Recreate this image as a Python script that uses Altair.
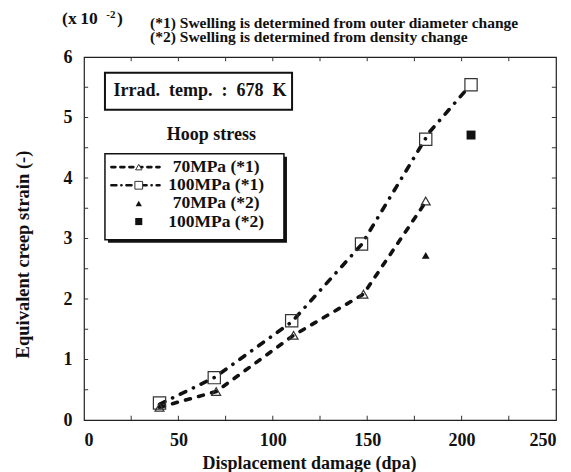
import altair as alt
import pandas as pd

FONT = "Liberation Serif"
NB = "\u00a0"

# ---- data ----
x70_1 = [40, 70, 111, 148, 181]
y70_1 = [0.21, 0.47, 1.40, 2.08, 3.62]
x100_1 = [40, 69, 110, 147, 181, 205]
y100_1 = [0.28, 0.70, 1.64, 2.91, 4.64, 5.54]
line70_x = [40, 70, 111, 148, 180]
line70_y = [0.21, 0.47, 1.40, 2.08, 3.56]
line100_x = [40, 69, 110, 147, 183, 202]
line100_y = [0.26, 0.70, 1.62, 2.90, 4.76, 5.44]
x70_2 = [181]
y70_2 = [2.72]
x100_2 = [205]
y100_2 = [4.71]

x_labels = [0, 50, 100, 150, 200, 250]
y_labels = [0, 1, 2, 3, 4, 5, 6]
x_minor = [25, 50, 75, 100, 125, 150, 175, 200, 225]
y_minor = [0.5, 1, 1.5, 2, 2.5, 3, 3.5, 4, 4.5, 5, 5.5]

legend_labels = ["70MPa (*1)", "100MPa (*1)", "70MPa (*2)", "100MPa (*2)"]
legend_rows_y = [4.18, 3.88, 3.58, 3.28]

xs = alt.Scale(domain=[0, 250], nice=False, zero=False)
ys = alt.Scale(domain=[0, 6], nice=False, zero=False)

xaxis = alt.Axis(values=x_labels, tickSize=0, domain=False, grid=False,
                 labelFont=FONT, labelFontSize=18, labelFontWeight="bold",
                 labelColor="#111", labelPadding=11,
                 titleFont=FONT, titleFontSize=18, titleFontWeight="bold",
                 titleColor="#111", titleX=225, titleY=43,
                 titleAlign="center", titleBaseline="middle")
yaxis = alt.Axis(values=y_labels, tickSize=0, domain=False, grid=False,
                 labelFont=FONT, labelFontSize=18, labelFontWeight="bold",
                 labelColor="#111", labelPadding=12,
                 titleFont=FONT, titleFontSize=18.5, titleFontWeight="bold",
                 titleColor="#111", titleX=-62, titleY=197, titleAngle=270,
                 titleAlign="center", titleBaseline="middle")

XT = "Displacement damage (dpa)"
YT = "Equivalent creep strain (-)"


def X(f="x"):
    return alt.X(f"{f}:Q", scale=xs, axis=xaxis, title=XT)


def Y(f="y"):
    return alt.Y(f"{f}:Q", scale=ys, axis=yaxis, title=YT)


def df(**kw):
    return pd.DataFrame(kw)


def text_layer(x, y, t, size, weight="normal", align="left", baseline="alphabetic"):
    return alt.Chart(df(x=x, y=y, t=t)).mark_text(
        font=FONT, fontSize=size, fontWeight=weight, align=align,
        baseline=baseline, color="#111").encode(x=X(), y=Y(), text="t:N")


# ---- boxes (legend frame, annotation frame) ----
shadow = alt.Chart(df(x=[12.7], x2=[107.5], y=[2.93], y2=[4.35])).mark_rect(
    fill="#111", stroke=None).encode(x=X(), x2="x2", y=Y(), y2="y2")
legbox = alt.Chart(df(x=[11.1], x2=[105.9], y=[2.98], y2=[4.40])).mark_rect(
    fill="white", stroke="#111", strokeWidth=1.5).encode(x=X(), x2="x2", y=Y(), y2="y2")
irrbox = alt.Chart(df(x=[11.1], x2=[110.2], y=[5.13], y2=[5.74])).mark_rect(
    fill="white", stroke="#111", strokeWidth=2).encode(x=X(), x2="x2", y=Y(), y2="y2")

# ---- curves ----
dash70 = [5, 8.5]
dash100 = [6, 8.5, 0.1, 8.5]
l70 = alt.Chart(df(x=line70_x, y=line70_y)).mark_line(
    color="#111", strokeWidth=3.6, strokeDash=dash70, strokeCap="round").encode(x=X(), y=Y())
l100 = alt.Chart(df(x=line100_x, y=line100_y)).mark_line(
    color="#111", strokeWidth=3.6, strokeDash=dash100, strokeCap="round").encode(x=X(), y=Y())

p70 = alt.Chart(df(x=x70_1, y=y70_1)).mark_point(
    shape="triangle-up", size=80, filled=False, color="#333", strokeWidth=1.2, opacity=1).encode(x=X(), y=Y())
p100 = alt.Chart(df(x=x100_1, y=y100_1)).mark_point(
    shape="square", size=150, filled=False, color="#333", strokeWidth=1.2, opacity=1).encode(x=X(), y=Y())
f70 = alt.Chart(df(x=x70_2, y=y70_2)).mark_point(
    shape="triangle-up", size=60, filled=True, color="#111", opacity=1).encode(x=X(), y=Y())
f100 = alt.Chart(df(x=x100_2, y=y100_2)).mark_point(
    shape="square", size=80, filled=True, color="#111", opacity=1).encode(x=X(), y=Y())

# ---- inward ticks on all four sides ----
tick_df = pd.concat([
    df(x=x_minor, x2=x_minor, y=[0.0] * 9, y2=[0.07] * 9),
    df(x=x_minor, x2=x_minor, y=[6.0] * 9, y2=[5.93] * 9),
    df(x=[0.0] * 11, x2=[2.2] * 11, y=y_minor, y2=y_minor),
    df(x=[250.0] * 11, x2=[247.8] * 11, y=y_minor, y2=y_minor),
])
ticks = alt.Chart(tick_df).mark_rule(color="#333", strokeWidth=1).encode(
    x=X(), x2="x2", y=Y(), y2="y2")

# ---- legend contents ----
leg_l70 = alt.Chart(df(x=[14.5, 40.0], y=[legend_rows_y[0]] * 2)).mark_line(
    color="#111", strokeWidth=2.6, strokeDash=[4, 5], strokeCap="round").encode(x=X(), y=Y())
leg_l100 = alt.Chart(df(x=[14.5, 40.0], y=[legend_rows_y[1]] * 2)).mark_line(
    color="#111", strokeWidth=2.6, strokeDash=[5, 5, 0.1, 5], strokeCap="round").encode(x=X(), y=Y())
leg_m1 = alt.Chart(df(x=[29.0], y=[legend_rows_y[0]])).mark_point(
    shape="triangle-up", size=40, filled=True, fill="white", stroke="#333", strokeWidth=1, opacity=1).encode(x=X(), y=Y())
leg_m2 = alt.Chart(df(x=[29.0], y=[legend_rows_y[1]])).mark_point(
    shape="square", size=60, filled=True, fill="white", stroke="#333", strokeWidth=1, opacity=1).encode(x=X(), y=Y())
leg_m3 = alt.Chart(df(x=[29.0], y=[legend_rows_y[2]])).mark_point(
    shape="triangle-up", size=40, filled=True, color="#111", opacity=1).encode(x=X(), y=Y())
leg_m4 = alt.Chart(df(x=[29.0], y=[legend_rows_y[3]])).mark_point(
    shape="square", size=50, filled=True, color="#111", opacity=1).encode(x=X(), y=Y())
leg_txt = text_layer([70.0] * 4, legend_rows_y, legend_labels, 17.5, "bold", "center", "middle")

# ---- annotations ----
irr_label = "Irrad." + NB + " temp." + NB + " :" + NB + " 678" + NB + " K"
irr_txt = text_layer([61.4], [5.43], [irr_label], 18, "bold", "center", "middle")
hoop_txt = text_layer([67.5], [4.71], ["Hoop stress"], 18, "bold", "center", "middle")

unit1 = text_layer([-11.6], [6.54], ["(x" + "\u2009" + "10"], 17.5, "bold")
unit2 = text_layer([11.8], [6.65], ["-2"], 11, "bold")
unit3 = text_layer([17.5], [6.54], [")"], 17.5, "bold")

notes = text_layer([35.0, 35.0], [6.475, 6.25],
                   ["(*1) Swelling is determined from outer diameter change",
                    "(*2) Swelling is determined from density change"], 15.5, "bold")

chart = alt.layer(
    shadow, legbox, irrbox, ticks, l70, l100, p70, p100, f70, f100,
    leg_l70, leg_l100, leg_m1, leg_m2, leg_m3, leg_m4, leg_txt,
    irr_txt, hoop_txt, unit1, unit2, unit3, notes,
).properties(
    width=472, height=363,
    padding={"left": 76, "top": 49, "right": 7, "bottom": 52},
    autosize=alt.AutoSizeParams(type="none"),
    background="white",
).configure_view(stroke="#222", strokeWidth=1.2)

chart.save("out.html", embed_options={"renderer": "svg", "actions": False})
